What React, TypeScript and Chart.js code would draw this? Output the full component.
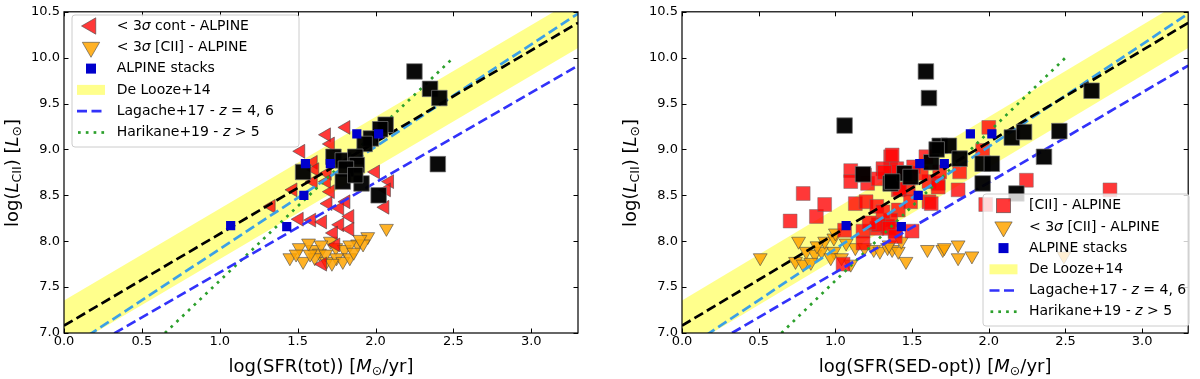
import React, { useEffect, useRef } from "react";
import { Chart, registerables } from "chart.js";
Chart.register(...registerables);

type P = [number, number];

// ---------- axes ----------
const X_TICKS = [0, 0.5, 1.0, 1.5, 2.0, 2.5, 3.0];
const Y_TICKS = [7.0, 7.5, 8.0, 8.5, 9.0, 9.5, 10.0, 10.5];
const X_MIN = 0;
const X_MAX = 3.3;
const Y_MIN = 7.0;
const Y_MAX = 10.5;

// ---------- relations (end points) ----------
const DE_LOOZE_CENTRAL: P[] = [[0, 7.08], [3.3, 10.38]];
const DE_LOOZE_UPPER: P[] = [[0, 7.355], [3.3, 10.655]];
const DE_LOOZE_LOWER: P[] = [[0, 6.805], [3.3, 10.105]];
const LAGACHE_Z4: P[] = [[0, 6.8], [3.3, 10.48]];
const LAGACHE_Z6: P[] = [[0, 6.68], [3.3, 9.914]];
const HARIKANE: P[] = [[0.648, 7.0], [2.5, 10.0]];

// ---------- ALPINE stacks (same in both panels) ----------
const STACKS: P[] = [
  [1.07, 8.17], [1.43, 8.16], [1.54, 8.5], [1.55, 8.845], [1.71, 8.845], [1.88, 9.17], [2.02, 9.17],
];

// ---------- left panel: SFR(tot) ----------
const TOT_CONT_LIMITS: P[] = [
  [1.81, 9.24], [1.685, 9.16], [1.71, 9.06], [1.6, 8.86], [1.61, 8.78], [1.69, 8.74], [1.6, 8.65],
  [1.685, 8.65], [2.0, 8.755], [2.09, 8.65], [2.07, 8.56], [1.71, 8.54], [1.81, 8.43], [1.695, 8.41],
  [2.06, 8.37], [1.77, 8.36], [1.835, 8.27], [1.51, 8.24], [1.59, 8.23], [1.66, 8.21], [1.77, 8.18],
  [1.835, 8.13], [1.73, 8.09], [1.745, 7.96], [1.66, 7.75], [1.33, 8.38], [1.52, 8.98], [1.47, 8.56],
];
const TOT_CII_LIMITS: P[] = [
  [2.07, 8.14], [1.95, 8.05], [1.885, 7.97], [1.92, 7.97], [1.51, 7.93], [1.45, 7.82], [1.6, 7.91],
  [1.64, 7.87], [1.71, 8.0], [1.745, 7.93], [1.8, 7.91], [1.835, 7.96], [1.535, 7.78], [1.61, 7.82],
  [1.685, 7.78], [1.75, 7.82], [1.79, 7.78], [1.835, 7.82], [1.58, 7.86], [1.65, 7.96], [1.9, 8.02],
  [1.57, 7.98], [1.68, 7.86], [1.72, 7.76], [1.49, 7.86], [1.86, 7.88],
];
const TOT_DETECTIONS: P[] = [
  [2.25, 9.85], [2.35, 9.66], [2.41, 9.56], [2.4, 8.84], [2.065, 9.27], [2.03, 9.22], [1.97, 9.12],
  [1.93, 9.06], [1.73, 8.92], [1.79, 8.88], [1.87, 8.92], [1.88, 8.83], [1.81, 8.79], [1.535, 8.755],
  [1.79, 8.65], [1.91, 8.63], [2.02, 8.5], [1.87, 8.72],
];

// ---------- right panel: SFR(SED-opt) ----------
const SED_CII_DETECTIONS: P[] = [
  [0.79, 8.52], [0.705, 8.22], [0.876, 8.27], [0.93, 8.4], [1.1, 8.77], [1.1, 8.65], [1.21, 8.63],
  [1.19, 8.72], [1.13, 8.41], [1.2, 8.43], [1.27, 8.38], [1.27, 8.14], [1.18, 8.11], [1.34, 8.16],
  [1.18, 7.98], [1.05, 7.75], [1.36, 8.92], [1.36, 8.76], [1.41, 8.56], [1.41, 8.34], [1.39, 8.11],
  [1.36, 8.23], [1.5, 8.11], [1.475, 8.57], [1.61, 8.43], [1.61, 8.65], [1.67, 8.63], [1.56, 8.74],
  [1.475, 8.74], [1.68, 8.755], [1.59, 8.92], [1.31, 8.79], [1.4, 8.79], [1.37, 8.94], [2.0, 9.24],
  [1.96, 8.99], [1.81, 8.755], [1.8, 8.56], [1.625, 8.41], [1.67, 8.59], [2.245, 8.665], [2.79, 8.56],
  [1.51, 8.81], [1.42, 8.57], [1.31, 8.32], [1.28, 8.18], [1.49, 8.43], [1.35, 8.14], [1.39, 8.05],
  [1.98, 8.4], [1.28, 8.68], [1.22, 8.2], [1.06, 8.12], [1.32, 8.75],
];
const SED_CII_LIMITS: P[] = [
  [0.51, 7.82], [0.76, 8.0], [0.74, 7.78], [0.81, 7.89], [0.79, 7.75], [0.866, 7.86], [0.84, 7.77],
  [0.91, 7.89], [0.93, 8.0], [0.99, 8.035], [0.99, 7.89], [1.0, 8.09], [0.97, 7.82], [1.04, 7.82],
  [1.1, 7.75], [1.13, 7.93], [1.19, 7.93], [1.25, 7.91], [1.29, 7.89], [1.34, 7.93], [1.37, 7.91],
  [1.41, 7.89], [1.46, 7.78], [1.43, 8.0], [1.6, 7.91], [1.7, 7.91], [1.35, 7.96], [1.71, 7.93],
  [1.8, 7.96], [1.8, 7.82], [1.89, 7.84], [2.49, 7.84], [0.88, 7.95], [1.07, 7.98],
];
const SED_DETECTIONS: P[] = [
  [1.06, 9.26], [1.18, 8.73], [1.36, 8.63], [1.59, 9.85], [1.61, 9.56], [2.67, 9.64], [2.15, 9.13],
  [2.23, 9.19], [2.46, 9.2], [2.36, 8.92], [1.96, 8.845], [2.02, 8.845], [1.96, 8.63], [2.18, 8.52],
  [1.68, 9.04], [1.74, 9.04], [1.81, 8.9], [1.625, 8.86], [1.45, 8.74], [1.37, 8.65], [1.49, 8.7],
  [1.66, 9.0],
];

// ---------- styles ----------
const FONT = '"DejaVu Sans", sans-serif';
const RED = "rgba(255,0,0,0.78)";
const ORANGE = "rgba(255,165,0,0.85)";
const EDGE = "rgba(70,70,70,0.75)";
const STACK_BLUE = "#0000cc";
const BAND = "rgba(255,255,0,0.45)";
const LIGHT_BLUE = "#3ca0e6";
const DASH_BLUE = "#3232fa";
const GREEN = "#2ca02c";
const DASH = [10, 4.5];
const DOT = [2.7, 5.3];

type Seg = { t: string; it?: boolean; sub?: boolean };

const pts = (a: P[]) => a.map(([x, y]) => ({ x, y }));

function segFont(size: number, s: Seg) {
  const sz = s.sub ? size * 0.7 : size;
  return `${s.it ? "italic " : ""}${sz}px ${FONT}`;
}
function measureRich(ctx: CanvasRenderingContext2D, segs: Seg[], size: number) {
  let w = 0;
  for (const s of segs) {
    ctx.font = segFont(size, s);
    w += ctx.measureText(s.t).width;
  }
  return w;
}
function drawRich(ctx: CanvasRenderingContext2D, segs: Seg[], x: number, y: number, size: number) {
  let cx = x;
  for (const s of segs) {
    ctx.font = segFont(size, s);
    ctx.fillText(s.t, cx, y + (s.sub ? size * 0.22 : 0));
    cx += ctx.measureText(s.t).width;
  }
}

function triPath(ctx: CanvasRenderingContext2D, x: number, y: number, r: number, rotDeg: number) {
  const a0 = (rotDeg * Math.PI) / 180;
  ctx.beginPath();
  for (let i = 0; i < 3; i++) {
    const a = a0 + (i * 2 * Math.PI) / 3;
    const px = x + Math.sin(a) * r;
    const py = y - Math.cos(a) * r;
    if (i === 0) ctx.moveTo(px, py);
    else ctx.lineTo(px, py);
  }
  ctx.closePath();
}

type LegendItem = { kind: string; segs: Seg[] };
type LegendSpec = {
  box: [number, number, number, number];
  hx: number;
  tx: number;
  y0: number;
  dy: number;
  items: LegendItem[];
};

function drawHandle(ctx: CanvasRenderingContext2D, kind: string, x: number, y: number) {
  ctx.save();
  if (kind === "triL" || kind === "triD") {
    triPath(ctx, x, y, kind === "triL" ? 9.5 : 10, kind === "triL" ? 270 : 180);
    ctx.fillStyle = kind === "triL" ? RED : ORANGE;
    ctx.fill();
    ctx.strokeStyle = EDGE;
    ctx.lineWidth = 0.8;
    ctx.stroke();
  } else if (kind === "sqBlue") {
    ctx.fillStyle = STACK_BLUE;
    ctx.fillRect(x - 5, y - 5, 10, 10);
  } else if (kind === "sqRed") {
    ctx.fillStyle = RED;
    ctx.fillRect(x - 7, y - 7, 14, 14);
    ctx.strokeStyle = EDGE;
    ctx.lineWidth = 0.8;
    ctx.strokeRect(x - 7, y - 7, 14, 14);
  } else if (kind === "band") {
    ctx.fillStyle = BAND;
    ctx.fillRect(x - 14, y - 5, 28, 10);
  } else if (kind === "dash") {
    ctx.strokeStyle = DASH_BLUE;
    ctx.lineWidth = 2.7;
    ctx.setLineDash([10, 4.5, 10, 100]);
    ctx.beginPath();
    ctx.moveTo(x - 14, y);
    ctx.lineTo(x + 14, y);
    ctx.stroke();
  } else if (kind === "dot") {
    ctx.fillStyle = GREEN;
    for (let i = 0; i < 4; i++) ctx.fillRect(x - 14 + 1 + i * 7.8, y - 1.35, 2.7, 2.7);
  }
  ctx.restore();
}

function drawLegend(ctx: CanvasRenderingContext2D, spec: LegendSpec) {
  const [x0, y0, x1, y1] = spec.box;
  ctx.save();
  ctx.beginPath();
  const r = 3;
  ctx.moveTo(x0 + r, y0);
  ctx.arcTo(x1, y0, x1, y1, r);
  ctx.arcTo(x1, y1, x0, y1, r);
  ctx.arcTo(x0, y1, x0, y0, r);
  ctx.arcTo(x0, y0, x1, y0, r);
  ctx.closePath();
  ctx.fillStyle = "rgba(255,255,255,0.8)";
  ctx.fill();
  ctx.strokeStyle = "#cccccc";
  ctx.lineWidth = 1;
  ctx.stroke();
  spec.items.forEach((it, i) => {
    const y = spec.y0 + i * spec.dy;
    drawHandle(ctx, it.kind, spec.hx, y);
    ctx.fillStyle = "#000";
    ctx.textBaseline = "middle";
    ctx.textAlign = "left";
    drawRich(ctx, it.segs, spec.tx, y, 14);
  });
  ctx.restore();
}

const Y_TITLE: Seg[] = [
  { t: "log(" }, { t: "L", it: true }, { t: "CII", sub: true }, { t: ") [" },
  { t: "L", it: true }, { t: "\u2299", sub: true }, { t: "]" },
];

const LEG_CII_LIM: Seg[] = [{ t: "< 3" }, { t: "\u03c3", it: true }, { t: " [CII] - ALPINE" }];
const LEG_COMMON: LegendItem[] = [
  { kind: "sqBlue", segs: [{ t: "ALPINE stacks" }] },
  { kind: "band", segs: [{ t: "De Looze+14" }] },
  { kind: "dash", segs: [{ t: "Lagache+17 - " }, { t: "z", it: true }, { t: " = 4, 6" }] },
  { kind: "dot", segs: [{ t: "Harikane+19 - " }, { t: "z", it: true }, { t: " > 5" }] },
];

function decorPlugin(xTitle: Seg[], yTitleX: number, legend: LegendSpec) {
  return {
    id: "decor",
    afterDraw(chart: any) {
      const ctx: CanvasRenderingContext2D = chart.ctx;
      const { left, right, top, bottom } = chart.chartArea;
      const xs = chart.scales.x;
      const ys = chart.scales.y;
      ctx.save();
      // ticks (inward, all four sides)
      ctx.strokeStyle = "#000";
      ctx.lineWidth = 1;
      const tl = 4.5;
      ctx.beginPath();
      for (const v of X_TICKS) {
        const px = Math.round(xs.getPixelForValue(v)) + 0.5;
        ctx.moveTo(px, bottom);
        ctx.lineTo(px, bottom - tl);
        ctx.moveTo(px, top);
        ctx.lineTo(px, top + tl);
      }
      for (const v of Y_TICKS) {
        const py = Math.round(ys.getPixelForValue(v)) + 0.5;
        ctx.moveTo(left, py);
        ctx.lineTo(left + tl, py);
        ctx.moveTo(right, py);
        ctx.lineTo(right - tl, py);
      }
      ctx.stroke();
      // frame
      ctx.lineWidth = 1.2;
      ctx.strokeRect(left, top, right - left, bottom - top);
      // titles
      ctx.fillStyle = "#000";
      ctx.textAlign = "left";
      ctx.textBaseline = "alphabetic";
      const wx = measureRich(ctx, xTitle, 18);
      drawRich(ctx, xTitle, (left + right) / 2 - wx / 2, 371.5, 18);
      ctx.save();
      ctx.translate(yTitleX, (top + bottom) / 2 + 0.5);
      ctx.rotate(-Math.PI / 2);
      const wy = measureRich(ctx, Y_TITLE, 18);
      drawRich(ctx, Y_TITLE, -wy / 2, 0, 18);
      ctx.restore();
      ctx.restore();
      drawLegend(ctx, legend);
    },
  };
}

function lineDs(data: P[], color: string, dash: number[], order: number) {
  return {
    type: "line",
    data: pts(data),
    borderColor: color,
    borderWidth: 2.7,
    borderDash: dash,
    pointRadius: 0,
    fill: false,
    tension: 0,
    order,
    clip: 0,
  };
}

function buildConfig(side: "left" | "right") {
  const isLeft = side === "left";
  const datasets: any[] = [
    {
      type: "scatter", data: pts(STACKS), pointStyle: "rect", pointRadius: 6.5,
      backgroundColor: STACK_BLUE, borderWidth: 0, order: 0,
    },
    {
      type: "scatter", data: pts(isLeft ? TOT_DETECTIONS : SED_DETECTIONS), pointStyle: "rect",
      pointRadius: 11, backgroundColor: "rgba(0,0,0,0.96)", borderColor: "rgba(120,120,120,0.9)",
      borderWidth: 0.8, order: 1,
    },
    lineDs(DE_LOOZE_CENTRAL, "#000", DASH, 2),
    lineDs(LAGACHE_Z4, LIGHT_BLUE, DASH, 3),
    lineDs(LAGACHE_Z6, DASH_BLUE, DASH, 4),
    lineDs(HARIKANE, GREEN, DOT, 5),
    isLeft
      ? {
          type: "scatter", data: pts(TOT_CONT_LIMITS), pointStyle: "triangle", pointRotation: 270,
          pointRadius: 8, backgroundColor: RED, borderColor: EDGE, borderWidth: 0.8, order: 6,
        }
      : {
          type: "scatter", data: pts(SED_CII_DETECTIONS), pointStyle: "rect", pointRadius: 9.8,
          backgroundColor: RED, borderColor: "rgba(110,110,110,0.6)", borderWidth: 0.8, order: 6,
        },
    {
      type: "scatter", data: pts(isLeft ? TOT_CII_LIMITS : SED_CII_LIMITS), pointStyle: "triangle",
      pointRotation: 180, pointRadius: 8, backgroundColor: ORANGE, borderColor: EDGE, borderWidth: 0.8,
      order: 7,
    },
    {
      type: "line", data: pts(DE_LOOZE_UPPER), borderWidth: 0, pointRadius: 0, backgroundColor: BAND,
      fill: "+1", order: 8, clip: 0,
    },
    {
      type: "line", data: pts(DE_LOOZE_LOWER), borderWidth: 0, pointRadius: 0, fill: false, order: 9,
      clip: 0,
    },
  ];

  const legend: LegendSpec = isLeft
    ? {
        box: [72, 15, 299, 147], hx: 91, tx: 116.7, y0: 26, dy: 21.3,
        items: [
          { kind: "triL", segs: [{ t: "< 3" }, { t: "\u03c3", it: true }, { t: " cont - ALPINE" }] },
          { kind: "triD", segs: LEG_CII_LIM },
          ...LEG_COMMON,
        ],
      }
    : {
        box: [383, 194, 589, 326], hx: 403.5, tx: 429, y0: 205.7, dy: 21.2,
        items: [
          { kind: "sqRed", segs: [{ t: "[CII] - ALPINE" }] },
          { kind: "triD", segs: LEG_CII_LIM },
          ...LEG_COMMON,
        ],
      };

  const xTitle: Seg[] = [
    { t: isLeft ? "log(SFR(tot)) [" : "log(SFR(SED-opt)) [" },
    { t: "M", it: true }, { t: "\u2299", sub: true }, { t: "/yr]" },
  ];
  const yAxisWidth = isLeft ? 64 : 82;

  return {
    type: "scatter",
    data: { datasets },
    options: {
      responsive: false,
      animation: false,
      devicePixelRatio: 1,
      events: [],
      layout: { padding: { top: 8, right: isLeft ? 22 : 4, left: 0, bottom: 0 } },
      plugins: { legend: { display: false }, tooltip: { enabled: false } },
      scales: {
        x: {
          type: "linear", min: X_MIN, max: X_MAX,
          grid: { display: false, drawTicks: false }, border: { display: false },
          ticks: {
            font: { family: FONT, size: 13 }, color: "#000", padding: 1, maxRotation: 0,
            autoSkip: false, callback: (v: any) => Number(v).toFixed(1),
          },
          afterBuildTicks: (s: any) => { s.ticks = X_TICKS.map((v) => ({ value: v })); },
          afterFit: (s: any) => { s.height = 46; },
        },
        y: {
          type: "linear", min: Y_MIN, max: Y_MAX,
          grid: { display: false, drawTicks: false }, border: { display: false },
          ticks: {
            font: { family: FONT, size: 13 }, color: "#000", padding: 4, autoSkip: false,
            callback: (v: any) => Number(v).toFixed(1),
          },
          afterBuildTicks: (s: any) => { s.ticks = Y_TICKS.map((v) => ({ value: v })); },
          afterFit: (s: any) => { s.width = yAxisWidth; },
        },
      },
    },
    plugins: [decorPlugin(xTitle, isLeft ? 17.5 : 35.5, legend)],
  };
}

export default function App() {
  const leftRef = useRef<HTMLCanvasElement>(null);
  const rightRef = useRef<HTMLCanvasElement>(null);
  useEffect(() => {
    const c1 = new Chart(leftRef.current as HTMLCanvasElement, buildConfig("left") as any);
    const c2 = new Chart(rightRef.current as HTMLCanvasElement, buildConfig("right") as any);
    return () => {
      c1.destroy();
      c2.destroy();
    };
  }, []);
  return (
    <div style={{ position: "fixed", left: 0, top: 0, width: 1200, height: 379, background: "#fff" }}>
      <canvas ref={leftRef} width={600} height={379}
        style={{ position: "absolute", left: 0, top: 0, width: 600, height: 379 }} />
      <canvas ref={rightRef} width={600} height={379}
        style={{ position: "absolute", left: 600, top: 0, width: 600, height: 379 }} />
    </div>
  );
}
